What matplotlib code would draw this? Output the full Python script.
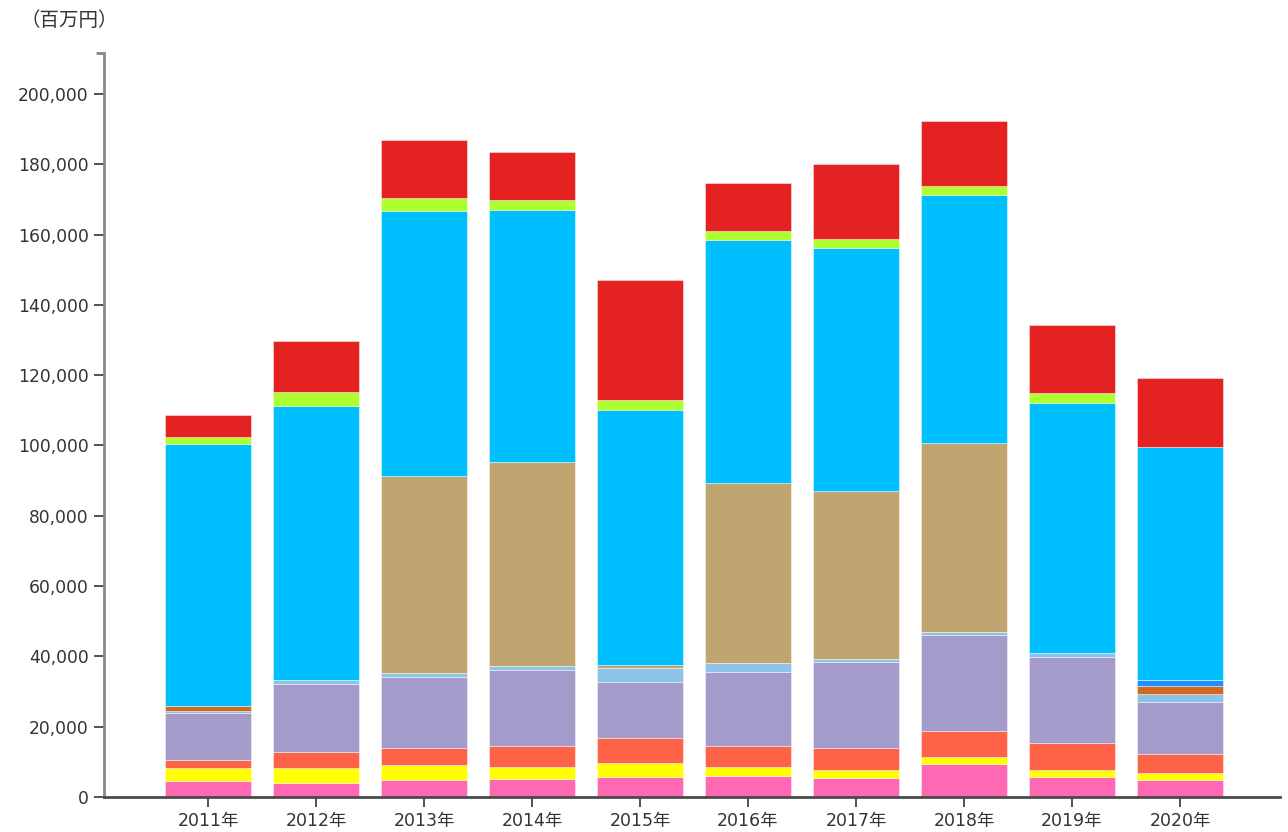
import matplotlib
matplotlib.use("Agg")
import matplotlib.pyplot as plt
import numpy as np

plt.rcParams["font.family"] = ["DejaVu Sans", "Noto Sans CJK JP"]

# ── Data (百万円) ────────────────────────────────────────────────────────────
years = ["2011年", "2012年", "2013年", "2014年", "2015年",
         "2016年", "2017年", "2018年", "2019年", "2020年"]

pink       = [4550, 4100, 4800, 5000, 5800, 6000, 5300, 9300, 5800, 4800]
yellow     = [3750, 4100, 4300, 3600, 3800, 2600, 2400, 2200, 1900, 1900]
tomato     = [2200, 4700, 4900, 5900, 7300, 5900, 6100, 7400, 7700, 5500]
purple     = [13300, 19200, 20200, 21600, 15900, 21100, 24600, 27300, 24500, 14700]
light_blue = [800, 1300, 1000, 1300, 3800, 2600, 1000, 800, 1000, 2300]
chocolate  = [1300, 0, 0, 0, 0, 0, 0, 0, 0, 2500]
dodger     = [0, 0, 0, 0, 0, 0, 0, 0, 0, 1600]
tan        = [0, 0, 56200, 58000, 900, 51200, 47600, 53600, 0, 0]
sky        = [74500, 77800, 75300, 71600, 72600, 69100, 69200, 70700, 71300, 66200]
green      = [2000, 4100, 3700, 2800, 2800, 2500, 2500, 2500, 2600, 0]
red        = [6300, 14400, 16500, 13800, 34300, 13600, 21500, 18500, 19500, 19600]

series = [pink, yellow, tomato, purple, light_blue, chocolate,
          dodger, tan, sky, green, red]
colors = ["#FF69B4", "#FFFF00", "#FF6347", "#A59BCB", "#8DC3E9", "#D2691E",
          "#1E90FF", "#C0A570", "#00BFFF", "#ADFF2F", "#E32221"]

# ── Canvas ───────────────────────────────────────────────────────────────────
fig = plt.figure(figsize=(12.88, 8.32), dpi=100)
ax = fig.add_axes([104 / 1288, 1 - 797 / 832, (1280 - 104) / 1288, (797 - 53) / 832])

x = np.arange(len(years))
bottom = np.zeros(len(years))
for vals, col in zip(series, colors):
    vals = np.array(vals, dtype=float)
    ax.bar(x, vals, width=0.8, bottom=bottom, color=col,
           edgecolor=(1, 1, 1, 0.5), linewidth=0.6, zorder=2)
    bottom += vals

# ── Axes styling ─────────────────────────────────────────────────────────────
ax.set_xlim(-0.963, 9.926)
ax.set_ylim(0, 211660)
ax.set_yticks(np.arange(0, 200001, 20000))
ax.set_yticklabels([f"{v:,}" for v in range(0, 200001, 20000)])
ax.set_xticks(x)
ax.set_xticklabels(years)

for side in ["top", "right"]:
    ax.spines[side].set_visible(False)
ax.spines["left"].set_color("#888888")
ax.spines["left"].set_linewidth(2)
ax.spines["bottom"].set_color("#4a4a4a")
ax.spines["bottom"].set_linewidth(2)

ax.tick_params(axis="y", length=7, width=1.2, color="#333333",
               labelsize=12.3, labelcolor="#333333", pad=4)
ax.tick_params(axis="x", length=7, width=1.2, color="#333333",
               labelsize=12.5, labelcolor="#333333", pad=4)

# small cap tick at top of y axis
ax.plot([-0.963 - 0.07, -0.963], [211660, 211660], color="#888888",
        lw=2, clip_on=False, solid_capstyle="butt")

fig.text(20 / 1288, 1 - 20 / 832, "（百万円）", ha="left", va="center",
         fontsize=14, color="#333333", family=["Noto Sans CJK JP", "DejaVu Sans"])

fig.savefig("out.png", dpi=100, facecolor="white")
